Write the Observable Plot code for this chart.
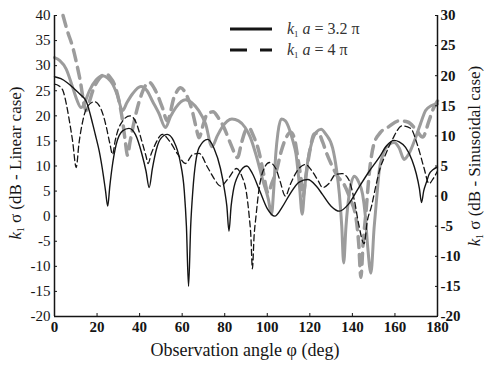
<!DOCTYPE html>
<html><head><meta charset="utf-8">
<script src="https://cdn.jsdelivr.net/npm/d3@7"></script>
<script src="https://cdn.jsdelivr.net/npm/@observablehq/plot@0.6"></script>
<style>body{margin:0;background:#fff}</style>
</head><body><div id="chart"></div>
<script>
// k1 a = 3.2π, linear case (left axis, dB)
const linSolidPhi = [0,3,6,9,12,15,18,19.5,21,23,24,25,26,27,29,32,35,38,41,43,44.5,46,48,50,53,56,59,61,62,63,64,65,68,72,75,78,80,81,82,83,84,86.5,90.4,93,96.5,100,103.5,107,110.5,115,119,123,126,130,133.9,138,143,148,152.6,156,159.6,162,165,168,170,171.5,172.5,173.5,175,176,178,180];
const linSolidVal = [27.8,27.4,26.6,25.5,24.3,22.8,18.3,15.7,13,8,5,2,6,9.5,14.3,17,17.5,16.3,12.5,9,5.7,9.5,13.5,15.5,16.3,15,11,5,-2,-14,-2,5,13.7,15.3,13.5,9.5,5,2,-3,2,5,8.3,10,8.5,5,1.5,0,1.8,4.3,6.8,7.3,6,4.3,2,1,2.3,5.7,9,11.7,14,15.1,14.8,13.7,11.2,8.5,5.5,2.7,5,7,8.3,9.3,9.8];
// k1 a = 4π, linear case (left axis, dB)
const linDashPhi = [0,2,4,5.5,7,8.5,10.2,11.5,13.3,15.7,18.8,21.1,23,24.5,26,27.3,28.5,31,35.5,38.5,41,43,44,45.5,47,50.7,54,58,61.5,65,68,72,75,78,82,85.5,88,90.3,91.5,92.3,93,93.8,94.7,96,98,101,104,106,108.5,111,114,118,121,124,126,129,132,135,138,141,143,145.5,147,149,151,153,155,158.8,163.4,167.4,170.5,173.6,176,178,180];
const linDashVal = [26.3,26,25,22.5,19,15,9.7,14.5,19,22,22.8,22,20,17.5,14.5,12.3,15,18.3,20,18.5,15,12,10.5,12.5,14,16.3,15,12.3,10.5,12.3,12.5,9.7,7.5,6,7.7,9.5,8,4.4,0,-4,-10.5,-4,0,5,9,10.7,9.5,7,4,6.5,9,10.3,9,7,5.7,6.5,8.3,8.5,7.5,3,-1.7,-5.5,-1,2,6,9.5,11.7,15.3,18,17.5,14.3,9.7,6.5,7.5,9];
// k1 a = 3.2π, sinusoidal case (right axis, dB)
const sinSolidPhi = [0,2.5,5.5,8.6,10.5,12.5,14.5,16.4,19.5,22.7,25,27.3,29.5,32,34,36.7,40.6,43.5,46,49,52.2,54.5,57,61.6,64.5,67.8,71,74,76.5,78.7,83.4,86.5,89.6,92,95,98,100.5,102,103,104,105,106.6,108.5,110.5,112,113.5,115.2,116.4,117.5,119,121,123,125.3,127.5,130.7,132.5,133.9,135,135.9,137,138.5,140.9,143,144.8,146,147.1,148.7,150.2,151.5,152.6,154,155.7,159.6,162,164.3,166.5,169.7,172,174.4,177,180];
const sinSolidVal = [23,22.5,21.1,18,16,14.7,15.8,17.5,19.3,20,19.6,18.6,16.8,14.2,15.5,17,18.2,17.5,15.8,13.8,11.4,13.2,14.7,16,15.5,14.2,12,8.2,10,11.4,12.8,12.5,11.4,9.8,6.5,2.5,-0.5,-3,1,7,10.5,12.8,12.5,11,9.2,7,1.4,-3,1,5.8,9,10.6,11.1,10.3,8,4.5,0.3,-5,-11.1,-5,0.3,3.3,2.3,0.3,-3,-8,-12.8,-5.3,0,4.2,6.5,8,8.9,8,6.1,7,9.7,12,14.2,15,15.3];
// k1 a = 4π, sinusoidal case (right axis, dB)
const sinDashPhi = [4,6,8.6,11.8,14.9,16.5,18,21,24.2,26,28.1,30.5,32,33.3,34.3,35.5,37.5,40.5,44.5,47.5,50.7,53,56.2,59.3,62,64.7,66.5,67.9,70,71.7,74.5,77,79.5,83,86,88,90,91.5,93.5,96,98,100.4,102,104.3,106.6,109,111,112.8,114.5,116,116.8,118,120,122,124,126,128,130.5,133,136,139,141.7,143,144,145,146.3,148,150,153,157,162,166,170,173,176,178,180];
const sinDashVal = [30,27.5,24.7,19.7,14.2,15.8,17.5,19.5,20.3,19.8,18.6,15.5,12.5,9,6.8,9,12.5,16.5,18.9,17.5,14.7,12.5,16.4,18,16.8,14.2,11.5,9.7,12,13.6,14,13,11.5,8.5,6.4,9,11,11.3,10,7.5,4.2,0.5,2,4.2,7.5,9.8,10.6,9.5,6,2.5,0,3,7.5,10.3,10.5,9,7,5,3.3,2,-0.5,-3.6,-8,-13.5,-8,-3,4,8.5,10.5,11.5,12.5,12.3,11,9.8,12.5,14.5,15.8];

const xTicks = [0,20,40,60,80,100,120,140,160,180];
const leftTicks = [-20,-15,-10,-5,0,5,10,15,20,25,30,35,40];
const rightTicks = [-20,-15,-10,-5,0,5,10,15,20,25,30];
const leftDomain = [-20, 40];
const rightDomain = [-20, 30];
const legendLabels = ["3.2 π", "4 π"];

// map right-axis values onto the left-axis scale
const toLeft = r => leftDomain[0] + (r - rightDomain[0]) * (leftDomain[1]-leftDomain[0]) / (rightDomain[1]-rightDomain[0]);
const fromLeft = l => rightDomain[0] + (l - leftDomain[0]) * (rightDomain[1]-rightDomain[0]) / (leftDomain[1]-leftDomain[0]);

const mk = (p, v) => p.map((phi, i) => ({phi, v: v[i]}));
const linSolid = mk(linSolidPhi, linSolidVal);
const linDash = mk(linDashPhi, linDashVal);
const sinSolid = mk(sinSolidPhi, sinSolidVal);
const sinDash = mk(sinDashPhi, sinDashVal);

const GRAY = "#9c9c9c";
const INK = "#151515";

const chart = Plot.plot({
  width: 484, height: 365,
  marginLeft: 54, marginRight: 47, marginTop: 15, marginBottom: 49,
  style: {fontFamily: "'Liberation Serif', serif", fontSize: "15px", background: "#fff", color: INK},
  x: {domain: [0, 180], label: null},
  y: {domain: leftDomain, label: null},
  marks: [
    Plot.line(sinSolid, {x: "phi", y: d => toLeft(d.v), stroke: GRAY, strokeWidth: 3, curve: "monotone-x"}),
    Plot.line(sinDash, {x: "phi", y: d => toLeft(d.v), stroke: GRAY, strokeWidth: 3.5, strokeDasharray: "11,7", curve: "monotone-x"}),
    Plot.line(linSolid, {x: "phi", y: "v", stroke: INK, strokeWidth: 1.4, curve: "monotone-x"}),
    Plot.line(linDash, {x: "phi", y: "v", stroke: INK, strokeWidth: 1.3, strokeDasharray: "6,3.5", curve: "monotone-x"}),
    Plot.ruleX([0, 180], {stroke: INK, strokeWidth: 1.5}),
    Plot.ruleY([leftDomain[0]], {stroke: INK, strokeWidth: 1.5}),
    // left axis
    Plot.axisY(leftTicks, {anchor: "left", tickSize: 0, tickPadding: 4, tickFormat: d => String(d), label: null}),
    Plot.axisY(leftTicks, {anchor: "left", tickSize: 3, dx: 3, fill: "none", label: null}),
    // right axis
    Plot.axisY(rightTicks.map(toLeft), {anchor: "right", tickSize: 0, tickPadding: 3, fontWeight: "bold", tickFormat: d => String(Math.round(fromLeft(d))), label: null}),
    Plot.axisY(rightTicks.map(toLeft), {anchor: "right", tickSize: 3, dx: -3, fill: "none", label: null}),
    // bottom axis
    Plot.axisX(xTicks, {anchor: "bottom", tickSize: 0, tickPadding: 5, fontWeight: "bold", tickFormat: d => String(d), label: null}),
    Plot.axisX(xTicks, {anchor: "bottom", tickSize: 3, dy: -3, fill: "none", label: null})
  ]
});
document.getElementById("chart").appendChild(chart);

// Axis titles and legend (rich text: italic k with subscript 1)
const svg = d3.select(chart);
const g = svg.append("g").attr("font-family", "'Liberation Serif', serif").attr("fill", INK);

function kPrefix(t, size, rest, extra) {
  t.append("tspan").attr("font-style", "italic").text("k");
  t.append("tspan").attr("font-size", size * 0.55).attr("dy", size * 0.18).text("1");
  if (extra) {
    t.append("tspan").attr("dy", -size * 0.18).text(" ");
    t.append("tspan").attr("font-style", "italic").text(extra);
    t.append("tspan").text(rest);
  } else {
    t.append("tspan").attr("dy", -size * 0.18).text(rest);
  }
}

const lt = g.append("text").attr("transform", "translate(21,163) rotate(-90)").attr("text-anchor", "middle").attr("font-size", 17);
kPrefix(lt, 17, " σ (dB - Linear case)");
const rt = g.append("text").attr("transform", "translate(480,156) rotate(-90)").attr("text-anchor", "middle").attr("font-size", 17);
kPrefix(rt, 17, " σ (dB - Sinusoidal case)");
g.append("text").attr("x", 245).attr("y", 356).attr("text-anchor", "middle").attr("font-size", 18).text("Observation angle φ (deg)");

// legend
const lg = svg.append("g");
lg.append("line").attr("x1", 230).attr("x2", 272).attr("y1", 29).attr("y2", 29).attr("stroke", INK).attr("stroke-width", 3);
lg.append("line").attr("x1", 230).attr("x2", 272).attr("y1", 50).attr("y2", 50).attr("stroke", INK).attr("stroke-width", 3).attr("stroke-dasharray", "17,13");
legendLabels.forEach((lab, i) => {
  const t = lg.append("text").attr("x", 287).attr("y", 34 + i * 21).attr("text-anchor", "start").attr("font-size", 16).attr("fill", "#333").attr("font-family", "'Liberation Serif', serif");
  kPrefix(t, 16, " = " + lab, "a");
});
</script>
</body></html>
